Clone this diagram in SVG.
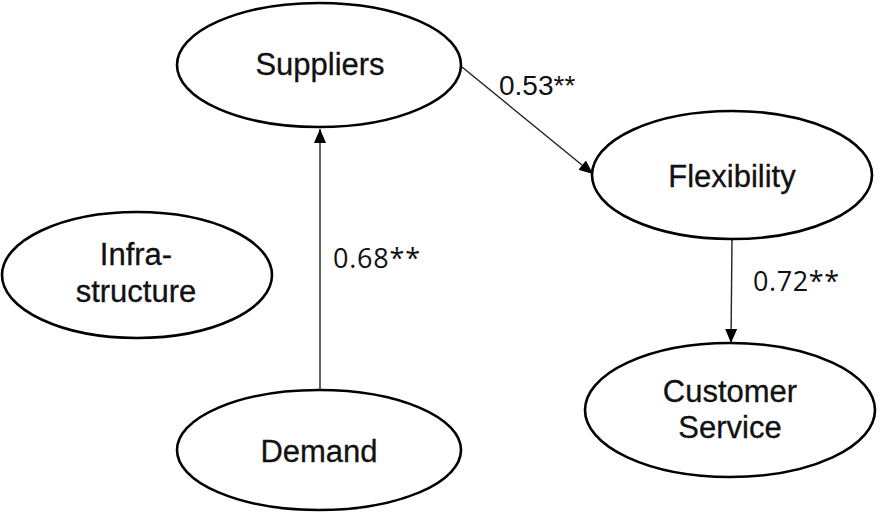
<svg xmlns="http://www.w3.org/2000/svg" width="881" height="512" viewBox="0 0 881 512">
<style>
.node ellipse{fill:#fff;stroke:#000;stroke-width:2.6}
.node text{font-family:"Liberation Sans",Arial,sans-serif;font-size:31px;fill:#111;text-anchor:middle;stroke:#111;stroke-width:0.3}
.edge{stroke:#222;stroke-width:1.4;fill:none;marker-end:url(#ah)}
.lbl{font-family:"Liberation Sans",Arial,sans-serif;font-size:28px;fill:#111}
.lbl2{font-family:"Open Sans","DejaVu Sans",sans-serif;font-size:27px;fill:#111}
</style>
<defs>
<marker id="ah" viewBox="0 0 14 12" refX="14" refY="6" markerWidth="14" markerHeight="12" markerUnits="userSpaceOnUse" orient="auto">
<path d="M0,0 L14,6 L0,12 Z" fill="#000"/>
</marker>
</defs>
<g id="connectors">
<line class="edge" x1="320" y1="390" x2="320" y2="129"/>
<line class="edge" x1="462" y1="67" x2="593" y2="174"/>
<line class="edge" x1="732" y1="239" x2="731" y2="343"/>
</g>
<g id="labels">
<text class="lbl" x="499" y="95">0.53**</text>
<text class="lbl2" x="333" y="268" textLength="87">0.68**</text>
<text class="lbl2" x="753" y="291" textLength="86">0.72**</text>
</g>
<g id="suppliers" class="node">
<ellipse cx="319" cy="65" rx="142" ry="62"/>
<text x="320" y="75">Suppliers</text>
</g>
<g id="flexibility" class="node">
<ellipse cx="732" cy="175" rx="140" ry="64"/>
<text x="732" y="187">Flexibility</text>
</g>
<g id="infrastructure" class="node">
<ellipse cx="137" cy="275" rx="135" ry="63"/>
<text x="136" y="265">Infra-</text>
<text x="136" y="302">structure</text>
</g>
<g id="demand" class="node">
<ellipse cx="319" cy="450" rx="142" ry="60"/>
<text x="319" y="462">Demand</text>
</g>
<g id="customer-service" class="node">
<ellipse cx="730" cy="410" rx="145" ry="67"/>
<text x="730" y="402">Customer</text>
<text x="730" y="438">Service</text>
</g>
</svg>
